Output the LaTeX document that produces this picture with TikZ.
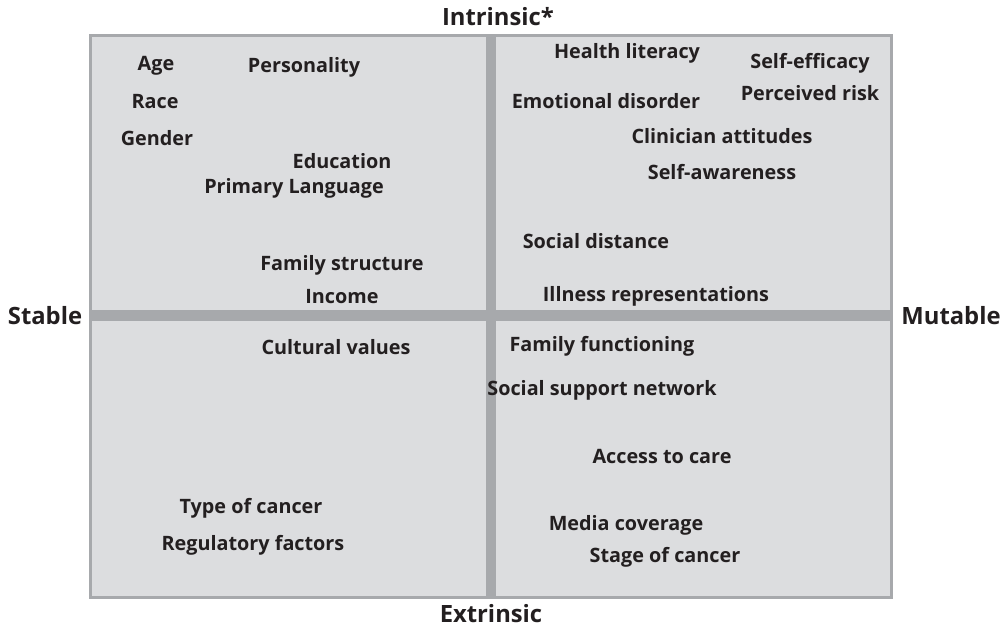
\documentclass[tikz,border=0pt]{standalone}
\usepackage{fontspec}
\setmainfont{Open Sans}
\usepackage{tikz}
\definecolor{quadfill}{HTML}{DCDDDF}
\definecolor{quadline}{HTML}{A7A9AC}
\definecolor{quadtext}{HTML}{231F20}

\begin{document}
\begin{tikzpicture}[x=1pt, y=-1pt,
  factor/.style={font=\bfseries\fontsize{19.8}{22}\selectfont, text=quadtext, inner sep=0pt},
  axislabel/.style={font=\bfseries\fontsize{23.8}{26}\selectfont, text=quadtext, inner sep=0pt}]
\useasboundingbox (0,0) rectangle (1004,630);
% frame and the two bars
\draw[quadline, line width=3pt, fill=quadfill] (90.5,35.5) rectangle (891.5,597.5);
\fill[quadline] (486,35) rectangle (496,598);
\fill[quadline] (89,310) rectangle (893,321);
% axes
\node[axislabel] (intr) at (498,17) {Intrinsic*};
\node[axislabel] (extr) at (491,614) {Extrinsic};
\node[axislabel] (stab) at (45,316) {Stable};
\node[axislabel] (mut) at (951,316) {Mutable};
% stable, intrinsic
\node[factor] (age) at (156,66) {Age};
\node[factor] (pers) at (304,67) {Personality};
\node[factor] (race) at (155,102) {Race};
\node[factor] (gend) at (157,138) {Gender};
\node[factor] (edu) at (342,161) {Education};
\node[factor] (lang) at (294,188) {Primary Language};
\node[factor] (fam) at (342,265) {Family structure};
\node[factor] (inc) at (342,297) {Income};
% mutable, intrinsic
\node[factor] (hlit) at (627,53) {Health literacy};
\node[factor] (seff) at (810,63) {Self-efficacy};
\node[factor] (emo) at (606,101) {Emotional disorder};
\node[factor] (risk) at (810,93) {Perceived risk};
\node[factor] (clin) at (722,136) {Clinician attitudes};
\node[factor] (saw) at (722,172) {Self-awareness};
\node[factor] (sdist) at (596,241) {Social distance};
\node[factor] (ill) at (656,296) {Illness representations};
% stable, extrinsic
\node[factor] (cult) at (336,347) {Cultural values};
\node[factor] (type) at (251,508) {Type of cancer};
\node[factor] (reg) at (253,545) {Regulatory factors};
% mutable, extrinsic
\node[factor] (ffun) at (602,346) {Family functioning};
\node[factor] (ssn) at (602,390) {Social support network};
\node[factor] (acc) at (662,456) {Access to care};
\node[factor] (med) at (626,525) {Media coverage};
\node[factor] (stage) at (665,557) {Stage of cancer};
\end{tikzpicture}
\end{document}
